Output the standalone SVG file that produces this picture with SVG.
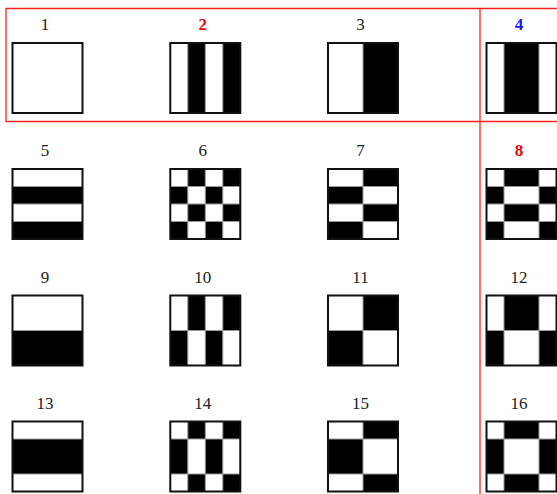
<svg xmlns="http://www.w3.org/2000/svg" width="557" height="494" viewBox="0 0 557 494">
<style>
.bg{fill:#fff}
.bk{fill:#000}
.w{fill:#fff;stroke:#999;stroke-width:1}
.fr{fill:none;stroke:#111;stroke-width:2}
.lb{font-family:"Liberation Serif","Times New Roman",serif;font-size:17px;text-anchor:middle;fill:#222}
.red{fill:#ff0000;font-weight:bold}
.blue{fill:#1a1aff;font-weight:bold}
.rl{fill:none;stroke:#ff2020;stroke-width:1.3}
</style>
<rect class="bg" width="557" height="494"/>
<g id="frames">
<path class="rl" d="M557,8.5 H6 V121.5 H557"/>
<path class="rl" d="M480,8.5 V494"/>
</g>
<g id="n1"><text class="lb" x="45" y="30">1</text><g transform="translate(12.5,43)"><rect class="bk" width="70" height="70"/><rect class="w" x="0" y="0" width="70" height="70"/><rect class="fr" width="70" height="70"/></g></g>
<g id="n2"><text class="lb red" x="202.8" y="30">2</text><g transform="translate(170.3,43)"><rect class="bk" width="70" height="70"/><rect class="w" x="0" y="0" width="17.5" height="70"/><rect class="w" x="35" y="0" width="17.5" height="70"/><rect class="fr" width="70" height="70"/></g></g>
<g id="n3"><text class="lb" x="360.5" y="30">3</text><g transform="translate(328,43)"><rect class="bk" width="70" height="70"/><rect class="w" x="0" y="0" width="35" height="70"/><rect class="fr" width="70" height="70"/></g></g>
<g id="n4"><text class="lb blue" x="519" y="30">4</text><g transform="translate(486.5,43)"><rect class="bk" width="70" height="70"/><rect class="w" x="0" y="0" width="17.5" height="70"/><rect class="w" x="52.5" y="0" width="17.5" height="70"/><rect class="fr" width="70" height="70"/></g></g>
<g id="n5"><text class="lb" x="45" y="156">5</text><g transform="translate(12.5,169)"><rect class="bk" width="70" height="70"/><rect class="w" x="0" y="0" width="70" height="17.5"/><rect class="w" x="0" y="35" width="70" height="17.5"/><rect class="fr" width="70" height="70"/></g></g>
<g id="n6"><text class="lb" x="202.8" y="156">6</text><g transform="translate(170.3,169)"><rect class="bk" width="70" height="70"/><rect class="w" x="0" y="0" width="17.5" height="17.5"/><rect class="w" x="35" y="0" width="17.5" height="17.5"/><rect class="w" x="17.5" y="17.5" width="17.5" height="17.5"/><rect class="w" x="52.5" y="17.5" width="17.5" height="17.5"/><rect class="w" x="0" y="35" width="17.5" height="17.5"/><rect class="w" x="35" y="35" width="17.5" height="17.5"/><rect class="w" x="17.5" y="52.5" width="17.5" height="17.5"/><rect class="w" x="52.5" y="52.5" width="17.5" height="17.5"/><rect class="fr" width="70" height="70"/></g></g>
<g id="n7"><text class="lb" x="360.5" y="156">7</text><g transform="translate(328,169)"><rect class="bk" width="70" height="70"/><rect class="w" x="0" y="0" width="35" height="17.5"/><rect class="w" x="35" y="17.5" width="35" height="17.5"/><rect class="w" x="0" y="35" width="35" height="17.5"/><rect class="w" x="35" y="52.5" width="35" height="17.5"/><rect class="fr" width="70" height="70"/></g></g>
<g id="n8"><text class="lb red" x="519" y="156">8</text><g transform="translate(486.5,169)"><rect class="bk" width="70" height="70"/><rect class="w" x="0" y="0" width="17.5" height="17.5"/><rect class="w" x="52.5" y="0" width="17.5" height="17.5"/><rect class="w" x="17.5" y="17.5" width="35" height="17.5"/><rect class="w" x="0" y="35" width="17.5" height="17.5"/><rect class="w" x="52.5" y="35" width="17.5" height="17.5"/><rect class="w" x="17.5" y="52.5" width="35" height="17.5"/><rect class="fr" width="70" height="70"/></g></g>
<g id="n9"><text class="lb" x="45" y="282.5">9</text><g transform="translate(12.5,295.5)"><rect class="bk" width="70" height="70"/><rect class="w" x="0" y="0" width="70" height="35"/><rect class="fr" width="70" height="70"/></g></g>
<g id="n10"><text class="lb" x="202.8" y="282.5">10</text><g transform="translate(170.3,295.5)"><rect class="bk" width="70" height="70"/><rect class="w" x="0" y="0" width="17.5" height="35"/><rect class="w" x="35" y="0" width="17.5" height="35"/><rect class="w" x="17.5" y="35" width="17.5" height="35"/><rect class="w" x="52.5" y="35" width="17.5" height="35"/><rect class="fr" width="70" height="70"/></g></g>
<g id="n11"><text class="lb" x="360.5" y="282.5">11</text><g transform="translate(328,295.5)"><rect class="bk" width="70" height="70"/><rect class="w" x="0" y="0" width="35" height="35"/><rect class="w" x="35" y="35" width="35" height="35"/><rect class="fr" width="70" height="70"/></g></g>
<g id="n12"><text class="lb" x="519" y="282.5">12</text><g transform="translate(486.5,295.5)"><rect class="bk" width="70" height="70"/><rect class="w" x="0" y="0" width="17.5" height="35"/><rect class="w" x="52.5" y="0" width="17.5" height="35"/><rect class="w" x="17.5" y="35" width="35" height="35"/><rect class="fr" width="70" height="70"/></g></g>
<g id="n13"><text class="lb" x="45" y="408.5">13</text><g transform="translate(12.5,421.5)"><rect class="bk" width="70" height="70"/><rect class="w" x="0" y="0" width="70" height="17.5"/><rect class="w" x="0" y="52.5" width="70" height="17.5"/><rect class="fr" width="70" height="70"/></g></g>
<g id="n14"><text class="lb" x="202.8" y="408.5">14</text><g transform="translate(170.3,421.5)"><rect class="bk" width="70" height="70"/><rect class="w" x="0" y="0" width="17.5" height="17.5"/><rect class="w" x="35" y="0" width="17.5" height="17.5"/><rect class="w" x="17.5" y="17.5" width="17.5" height="35"/><rect class="w" x="52.5" y="17.5" width="17.5" height="35"/><rect class="w" x="0" y="52.5" width="17.5" height="17.5"/><rect class="w" x="35" y="52.5" width="17.5" height="17.5"/><rect class="fr" width="70" height="70"/></g></g>
<g id="n15"><text class="lb" x="360.5" y="408.5">15</text><g transform="translate(328,421.5)"><rect class="bk" width="70" height="70"/><rect class="w" x="0" y="0" width="35" height="17.5"/><rect class="w" x="35" y="17.5" width="35" height="35"/><rect class="w" x="0" y="52.5" width="35" height="17.5"/><rect class="fr" width="70" height="70"/></g></g>
<g id="n16"><text class="lb" x="519" y="408.5">16</text><g transform="translate(486.5,421.5)"><rect class="bk" width="70" height="70"/><rect class="w" x="0" y="0" width="17.5" height="17.5"/><rect class="w" x="52.5" y="0" width="17.5" height="17.5"/><rect class="w" x="17.5" y="17.5" width="35" height="35"/><rect class="w" x="0" y="52.5" width="17.5" height="17.5"/><rect class="w" x="52.5" y="52.5" width="17.5" height="17.5"/><rect class="fr" width="70" height="70"/></g></g>
</svg>
